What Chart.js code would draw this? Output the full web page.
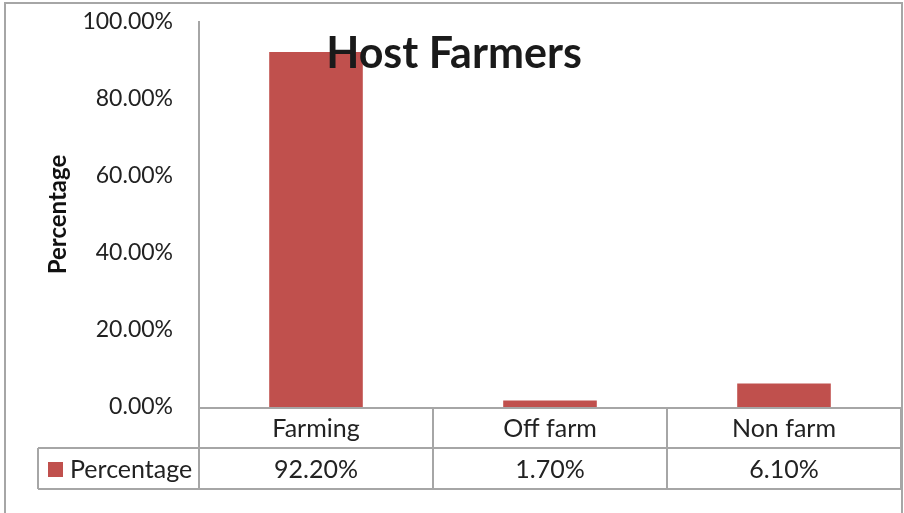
<!DOCTYPE html>
<html>
<head>
<meta charset="utf-8">
<script src="https://cdn.jsdelivr.net/npm/chart.js@4.4.1/dist/chart.umd.min.js"></script>
<style>
  html, body { margin: 0; padding: 0; background: #fff; }
  #wrap { position: relative; width: 904px; height: 513px; }
</style>
</head>
<body>
<div id="wrap"><canvas id="chart"></canvas></div>
<script>
const categories = ['Farming', 'Off farm', 'Non farm'];
const percentages = [92.2, 1.7, 6.1];
const seriesName = 'Percentage';
const chartTitle = 'Host Farmers';
const yTicks = [0, 20, 40, 60, 80, 100];

const barColor = '#C0504D';
const lineColor = '#A6A6A6';
const fontFamily = 'Lato, "Open Sans", sans-serif';

// draws the outer frame, the title and the data table under the plot
const tablePlugin = {
  id: 'dataTable',
  afterDraw(chart) {
    const ctx = chart.ctx;
    const area = chart.chartArea;
    const x = chart.scales.x;
    const catW = area.width / categories.length;
    const row1 = area.bottom + 41;
    const row2 = row1 + 41;
    const legendLeft = 38;

    ctx.save();
    ctx.strokeStyle = lineColor;
    ctx.lineWidth = 2;

    // outer frame
    ctx.strokeRect(5, 3, 897, 520);

    // table grid
    ctx.beginPath();
    ctx.moveTo(area.left, area.bottom + 1);
    ctx.lineTo(area.right, area.bottom + 1);
    ctx.moveTo(legendLeft, row1);
    ctx.lineTo(area.right, row1);
    ctx.moveTo(legendLeft, row2);
    ctx.lineTo(area.right, row2);
    ctx.moveTo(legendLeft, row1);
    ctx.lineTo(legendLeft, row2);
    for (let i = 0; i <= categories.length; i++) {
      const bx = Math.round(area.left + i * catW);
      ctx.moveTo(bx, area.bottom);
      ctx.lineTo(bx, row2);
    }
    ctx.stroke();

    // table text
    ctx.fillStyle = '#222';
    ctx.font = '25px ' + fontFamily;
    ctx.textAlign = 'center';
    ctx.textBaseline = 'middle';
    categories.forEach((c, i) => {
      const cx = x.getPixelForValue(i);
      ctx.fillText(c, cx, (area.bottom + row1) / 2 + 1);
      ctx.fillText(percentages[i].toFixed(2) + '%', cx, (row1 + row2) / 2 + 1);
    });

    // legend key
    ctx.fillStyle = barColor;
    ctx.fillRect(48, row1 + 14, 15, 15);
    ctx.fillStyle = '#222';
    ctx.textAlign = 'left';
    ctx.fillText(seriesName, 70, (row1 + row2) / 2 + 1);

    // title over the plot
    ctx.font = 'bold 43px ' + fontFamily;
    ctx.textAlign = 'center';
    ctx.textBaseline = 'alphabetic';
    ctx.fillStyle = '#1a1a1a';
    ctx.fillText(chartTitle, 454, 68);
    ctx.restore();
  }
};

new Chart(document.getElementById('chart'), {
  type: 'bar',
  data: {
    labels: categories,
    datasets: [{
      label: seriesName,
      data: percentages,
      backgroundColor: barColor,
      borderWidth: 0,
      categoryPercentage: 1,
      barPercentage: 0.4
    }]
  },
  options: {
    responsive: true,
    maintainAspectRatio: false,
    animation: false,
    layout: { padding: { left: 0, top: 22, right: 3, bottom: 106 } },
    plugins: {
      legend: { display: false },
      title: { display: false },
      tooltip: { enabled: false }
    },
    scales: {
      x: { display: false },
      y: {
        min: 0,
        max: 100,
        afterBuildTicks(scale) {
          scale.ticks = yTicks.map(v => ({ value: v }));
        },
        afterFit(scale) {
          scale.width = 199;
          scale.paddingTop = 0;
          scale.paddingBottom = 0;
        },
        grid: { display: false, drawTicks: false },
        border: { display: true, color: lineColor, width: 2 },
        ticks: {
          padding: 26,
          color: '#222',
          font: { family: fontFamily, size: 23 },
          callback: v => v.toFixed(2) + '%'
        },
        title: {
          display: true,
          text: seriesName,
          color: '#111',
          padding: { top: 44, bottom: 0 },
          font: { family: fontFamily, size: 24, weight: 'bold' }
        }
      }
    }
  },
  plugins: [tablePlugin]
});
</script>
</body>
</html>
